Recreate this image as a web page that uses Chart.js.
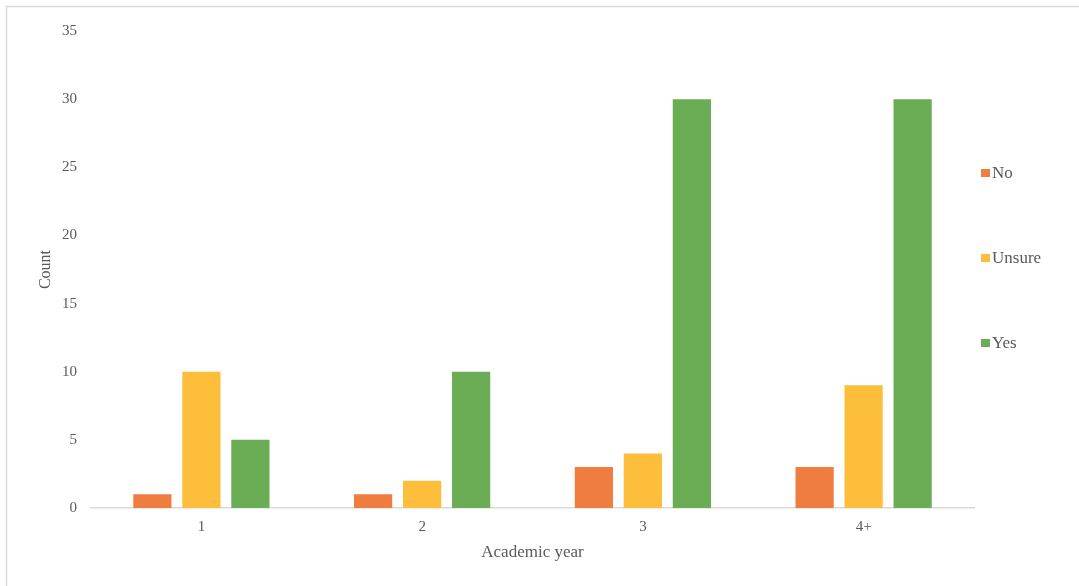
<!DOCTYPE html>
<html>
<head>
<meta charset="utf-8">
<title>Academic year counts</title>
<script src="https://cdn.jsdelivr.net/npm/chart.js@4.4.1/dist/chart.umd.min.js"></script>
<style>
  html, body { margin: 0; padding: 0; background: #fff; }
  #wrap { position: relative; width: 1079px; height: 586px; }
</style>
</head>
<body>
<div id="wrap"><canvas id="yearChart"></canvas></div>
<script>
// answer counts per academic year
var years = ['1', '2', '3', '4+']
var noCounts = [1, 1, 3, 3]
var unsureCounts = [10, 2, 4, 9]
var yesCounts = [5, 10, 30, 30]
var yTicks = [0, 5, 10, 15, 20, 25, 30, 35]

var textColor = '#595959'
var serif = "'Liberation Serif', 'Times New Roman', serif"

// thin frame along the top and left edge
var framePlugin = {
  id: 'frame',
  beforeDraw: function (chart) {
    var c = chart.ctx
    c.save()
    c.fillStyle = '#fff'
    c.fillRect(0, 0, chart.width, chart.height)
    c.strokeStyle = '#d9d9d9'
    c.lineWidth = 1.5
    c.strokeRect(6.5, 6.5, chart.width + 20, chart.height + 20)
    c.restore()
  }
}

// legend stacked on the right with wide spacing
var sideLegend = {
  id: 'sideLegend',
  afterDraw: function (chart) {
    var c = chart.ctx
    c.save()
    c.font = '17px ' + serif
    c.textBaseline = 'middle'
    c.textAlign = 'left'
    chart.data.datasets.forEach(function (ds, i) {
      var y = 173 + i * 85
      c.fillStyle = ds.backgroundColor
      c.fillRect(981, y - 4, 9, 8)
      c.fillStyle = textColor
      c.fillText(ds.label, 992, y + 1)
    })
    c.restore()
  }
}

var ctx = document.getElementById('yearChart').getContext('2d')
var chart = new Chart(ctx, {
  type: 'bar',
  data: {
    labels: years,
    datasets: [
      { label: 'No', data: noCounts, backgroundColor: '#EF7D40' },
      { label: 'Unsure', data: unsureCounts, backgroundColor: '#FDBE3C' },
      { label: 'Yes', data: yesCounts, backgroundColor: '#6AAD55' }
    ]
  },
  options: {
    responsive: true,
    maintainAspectRatio: false,
    animation: false,
    categoryPercentage: 0.666,
    barPercentage: 0.78,
    layout: { padding: { left: 0, right: 105, top: 31, bottom: 0 } },
    plugins: {
      legend: { display: false },
      tooltip: { enabled: false }
    },
    scales: {
      x: {
        grid: { display: false, drawTicks: false },
        border: { display: true, color: '#d9d9d9', width: 1.5 },
        ticks: { color: textColor, font: { family: serif, size: 15 }, padding: 10 },
        title: {
          display: true,
          text: 'Academic year',
          color: textColor,
          font: { family: serif, size: 17 },
          padding: { top: 0, bottom: 23 }
        },
        afterFit: function (scale) { scale.height = 78 }
      },
      y: {
        min: 0,
        max: 35,
        afterBuildTicks: function (scale) {
          scale.ticks = yTicks.map(function (v) { return { value: v } })
        },
        grid: { display: false, drawTicks: false },
        border: { display: false },
        ticks: { color: textColor, font: { family: serif, size: 15 }, padding: 14 },
        title: {
          display: true,
          text: 'Count',
          color: textColor,
          font: { family: serif, size: 16 },
          padding: { top: 36, bottom: 0 }
        },
        afterFit: function (scale) { scale.width = 91 }
      }
    }
  },
  plugins: [framePlugin, sideLegend]
})
</script>
</body>
</html>
